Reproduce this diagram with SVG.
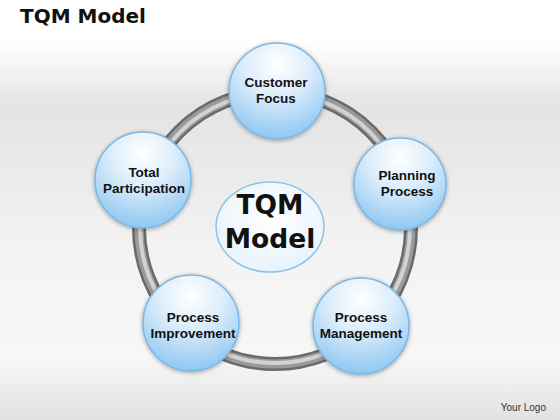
<svg xmlns="http://www.w3.org/2000/svg" width="560" height="420" viewBox="0 0 560 420">
  <defs>
    <linearGradient id="bg" x1="0" y1="0" x2="0" y2="1">
      <stop offset="0" stop-color="#ffffff"/>
      <stop offset="0.1" stop-color="#ffffff"/>
      <stop offset="0.25" stop-color="#e4e4e4"/>
      <stop offset="0.6" stop-color="#f3f3f3"/>
      <stop offset="0.85" stop-color="#f7f7f7"/>
      <stop offset="1" stop-color="#e2e2e2"/>
    </linearGradient>
    <radialGradient id="ball" cx="0.5" cy="0.22" r="0.85">
      <stop offset="0" stop-color="#ffffff"/>
      <stop offset="0.4" stop-color="#dcedfb"/>
      <stop offset="1" stop-color="#82c1f0"/>
    </radialGradient>
    <radialGradient id="core" cx="0.5" cy="0.4" r="0.7">
      <stop offset="0" stop-color="#ffffff"/>
      <stop offset="1" stop-color="#e4f1fb"/>
    </radialGradient>
    <filter id="sh" x="-20%" y="-20%" width="140%" height="140%">
      <feGaussianBlur in="SourceAlpha" stdDeviation="2"/>
      <feOffset dy="1"/>
      <feComponentTransfer><feFuncA type="linear" slope="0.35"/></feComponentTransfer>
      <feMerge><feMergeNode/><feMergeNode in="SourceGraphic"/></feMerge>
    </filter>
  </defs>
  <style>
    .ball { fill: url(#ball); stroke: #7db6e2; stroke-width: 1.5; filter: url(#sh); }
    .lbl { font-family: "Liberation Sans", Arial, sans-serif; font-weight: bold; font-size: 13.5px; fill: #111; text-anchor: middle; }
    .big { font-family: "DejaVu Sans", "Liberation Sans", sans-serif; font-weight: bold; font-size: 26.5px; fill: #111; text-anchor: middle; }
  </style>
  <rect x="0" y="0" width="560" height="420" fill="url(#bg)"/>
  <text x="20" y="23" font-family="DejaVu Sans, Liberation Sans, sans-serif" font-weight="bold" font-size="20" fill="#111">TQM Model</text>
  <g id="connectors">
    <circle cx="275" cy="228" r="136" fill="none" stroke="#6a6a6a" stroke-width="14"/>
    <circle cx="275" cy="228" r="136" fill="none" stroke="#9a9a9a" stroke-width="9"/>
    <circle cx="275" cy="228" r="135" fill="none" stroke="#d2d2d2" stroke-width="4"/>
  </g>
  <g id="core-node">
    <ellipse cx="270" cy="227" rx="54" ry="45" fill="url(#core)" stroke="#8cc4e8" stroke-width="1.5"/>
    <text class="big" x="270" y="214">TQM</text>
    <text class="big" x="270" y="248">Model</text>
  </g>
  <g id="customer-focus">
    <circle class="ball" cx="277" cy="91" r="48"/>
    <text class="lbl" x="276" y="87">Customer</text>
    <text class="lbl" x="276" y="103">Focus</text>
  </g>
  <g id="planning-process">
    <circle class="ball" cx="400" cy="184" r="46"/>
    <text class="lbl" x="407" y="180">Planning</text>
    <text class="lbl" x="407" y="196">Process</text>
  </g>
  <g id="process-management">
    <circle class="ball" cx="361" cy="326" r="48"/>
    <text class="lbl" x="361" y="322">Process</text>
    <text class="lbl" x="361" y="338">Management</text>
  </g>
  <g id="process-improvement">
    <circle class="ball" cx="191" cy="323" r="48"/>
    <text class="lbl" x="193" y="322">Process</text>
    <text class="lbl" x="193" y="338">Improvement</text>
  </g>
  <g id="total-participation">
    <circle class="ball" cx="143" cy="180" r="48"/>
    <text class="lbl" x="144" y="177">Total</text>
    <text class="lbl" x="144" y="193">Participation</text>
  </g>
  <text x="546" y="411" text-anchor="end" font-family="Liberation Sans, Arial, sans-serif" font-size="10" fill="#333">Your Logo</text>
</svg>
